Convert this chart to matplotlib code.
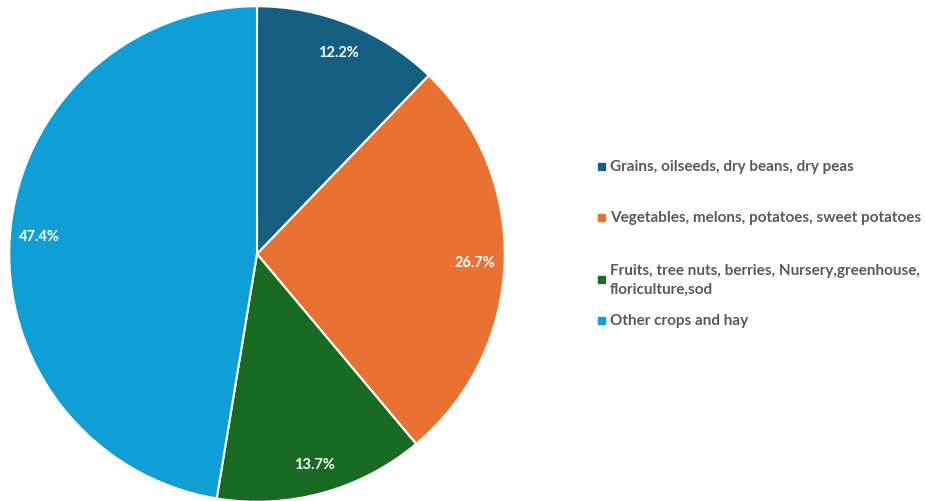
import matplotlib
matplotlib.use('Agg')
from matplotlib import pyplot as plt

categories = ['Grains, oilseeds, dry beans, dry peas',
              'Vegetables, melons, potatoes, sweet potatoes',
              'Fruits, tree nuts, berries, Nursery,greenhouse,\nfloriculture,sod',
              'Other crops and hay']
shares = [12.2, 26.7, 13.7, 47.4]
colors = ['#156082', '#E97132', '#196B24', '#0F9ED5']
legend_y = [167, 218, 280, 321]  # pixel rows of legend entries (from top)

plt.rcParams['font.family'] = ['Lato', 'DejaVu Sans']

fig = plt.figure(figsize=(9.25, 5.02), dpi=100)
ax = fig.add_axes([8 / 925, -2 / 502, 498 / 925, 498 / 502])

wedges, texts, autotexts = ax.pie(
    shares, colors=colors, startangle=90, counterclock=False,
    autopct='%1.1f%%', pctdistance=0.88,
    wedgeprops=dict(edgecolor='white', linewidth=1.5),
    textprops=dict(color='white', fontsize=10.5, fontweight='bold'))
ax.set_xlim(-1.005, 1.005)
ax.set_ylim(-1.005, 1.005)
ax.set_aspect('equal')

# legend drawn by hand to match the uneven spacing
for label, col, y in zip(categories, colors, legend_y):
    fy = 1 - y / 502
    fig.patches.append(plt.Rectangle((598 / 925, fy - 3.5 / 502), 7 / 925, 7 / 502,
                                     transform=fig.transFigure, color=col, figure=fig))
    fig.text(610 / 925, fy, label, color='#595959', fontsize=11, fontweight='bold',
             va='center', ha='left', linespacing=1.45)

fig.savefig('out.png', dpi=100)
